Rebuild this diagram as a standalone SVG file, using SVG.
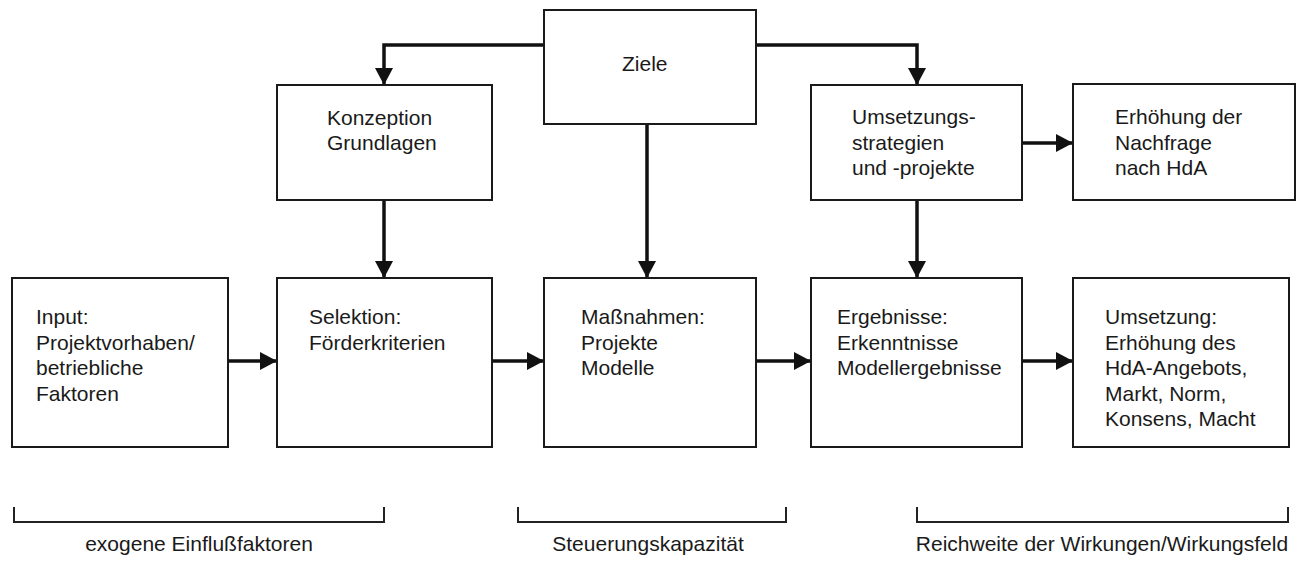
<svg xmlns="http://www.w3.org/2000/svg" width="1300" height="570" viewBox="0 0 1300 570">
<defs>
<marker id="ah" markerUnits="userSpaceOnUse" markerWidth="18" markerHeight="18" refX="17" refY="9" orient="auto">
<path d="M0,0 L17,9 L0,18 Z" fill="#111"/>
</marker>
<style>
.box{fill:#fff;stroke:#1a1a1a;stroke-width:2}
.t{font-family:"Liberation Sans",Arial,sans-serif;font-size:21px;fill:#1a1a1a}
.c{fill:none;stroke:#111;stroke-width:3.5}
.br{fill:none;stroke:#222;stroke-width:2}
</style>
</defs>
<rect width="1300" height="570" fill="#fff"/>
<g id="connectors">
<polyline class="c" points="544,45 384,45 384,85" marker-end="url(#ah)"/>
<polyline class="c" points="756,45 917,45 917,85" marker-end="url(#ah)"/>
<line class="c" x1="647" y1="124" x2="647" y2="278" marker-end="url(#ah)"/>
<line class="c" x1="384" y1="200" x2="384" y2="278" marker-end="url(#ah)"/>
<line class="c" x1="917" y1="200" x2="917" y2="278" marker-end="url(#ah)"/>
<line class="c" x1="1022" y1="143" x2="1073" y2="143" marker-end="url(#ah)"/>
<line class="c" x1="228" y1="361" x2="277" y2="361" marker-end="url(#ah)"/>
<line class="c" x1="492" y1="361" x2="544" y2="361" marker-end="url(#ah)"/>
<line class="c" x1="756" y1="361" x2="811" y2="361" marker-end="url(#ah)"/>
<line class="c" x1="1022" y1="361" x2="1073" y2="361" marker-end="url(#ah)"/>
</g>
<g id="ziele"><rect class="box" x="544" y="10" width="212" height="114"/><text class="t" x="622" y="71">Ziele</text></g>
<g id="konzeption"><rect class="box" x="277" y="85" width="215" height="115"/><text class="t" x="327" y="125">Konzeption</text><text class="t" x="327" y="150">Grundlagen</text></g>
<g id="umsetzungsstrategien"><rect class="box" x="811" y="85" width="211" height="115"/><text class="t" x="852" y="124">Umsetzungs-</text><text class="t" x="852" y="149.5">strategien</text><text class="t" x="852" y="175">und -projekte</text></g>
<g id="nachfrage"><rect class="box" x="1073" y="84" width="222" height="116"/><text class="t" x="1115" y="124">Erhöhung der</text><text class="t" x="1115" y="149.5">Nachfrage</text><text class="t" x="1115" y="175">nach HdA</text></g>
<g id="input"><rect class="box" x="12" y="278" width="216" height="169"/><text class="t" x="36" y="324">Input:</text><text class="t" x="36" y="349.5">Projektvorhaben/</text><text class="t" x="36" y="375">betriebliche</text><text class="t" x="36" y="400.5">Faktoren</text></g>
<g id="selektion"><rect class="box" x="277" y="278" width="215" height="169"/><text class="t" x="309" y="324">Selektion:</text><text class="t" x="309" y="349.5">Förderkriterien</text></g>
<g id="massnahmen"><rect class="box" x="544" y="278" width="212" height="169"/><text class="t" x="581" y="324">Maßnahmen:</text><text class="t" x="581" y="349.5">Projekte</text><text class="t" x="581" y="375">Modelle</text></g>
<g id="ergebnisse"><rect class="box" x="811" y="278" width="211" height="169"/><text class="t" x="837" y="324">Ergebnisse:</text><text class="t" x="837" y="349.5">Erkenntnisse</text><text class="t" x="837" y="375">Modellergebnisse</text></g>
<g id="umsetzung"><rect class="box" x="1073" y="278" width="216" height="169"/><text class="t" x="1105" y="324">Umsetzung:</text><text class="t" x="1105" y="349.5">Erhöhung des</text><text class="t" x="1105" y="375">HdA-Angebots,</text><text class="t" x="1105" y="400.5">Markt, Norm,</text><text class="t" x="1105" y="426">Konsens, Macht</text></g>
<g id="brackets">
<path class="br" d="M14,507 V522 H384 V507"/>
<path class="br" d="M518,507 V522 H786 V507"/>
<path class="br" d="M917,507 V522 H1288 V507"/>
<text class="t" x="199" y="551" text-anchor="middle">exogene Einflußfaktoren</text>
<text class="t" x="648" y="551" text-anchor="middle">Steuerungskapazität</text>
<text class="t" x="1102" y="551" text-anchor="middle">Reichweite der Wirkungen/Wirkungsfeld</text>
</g>
</svg>
